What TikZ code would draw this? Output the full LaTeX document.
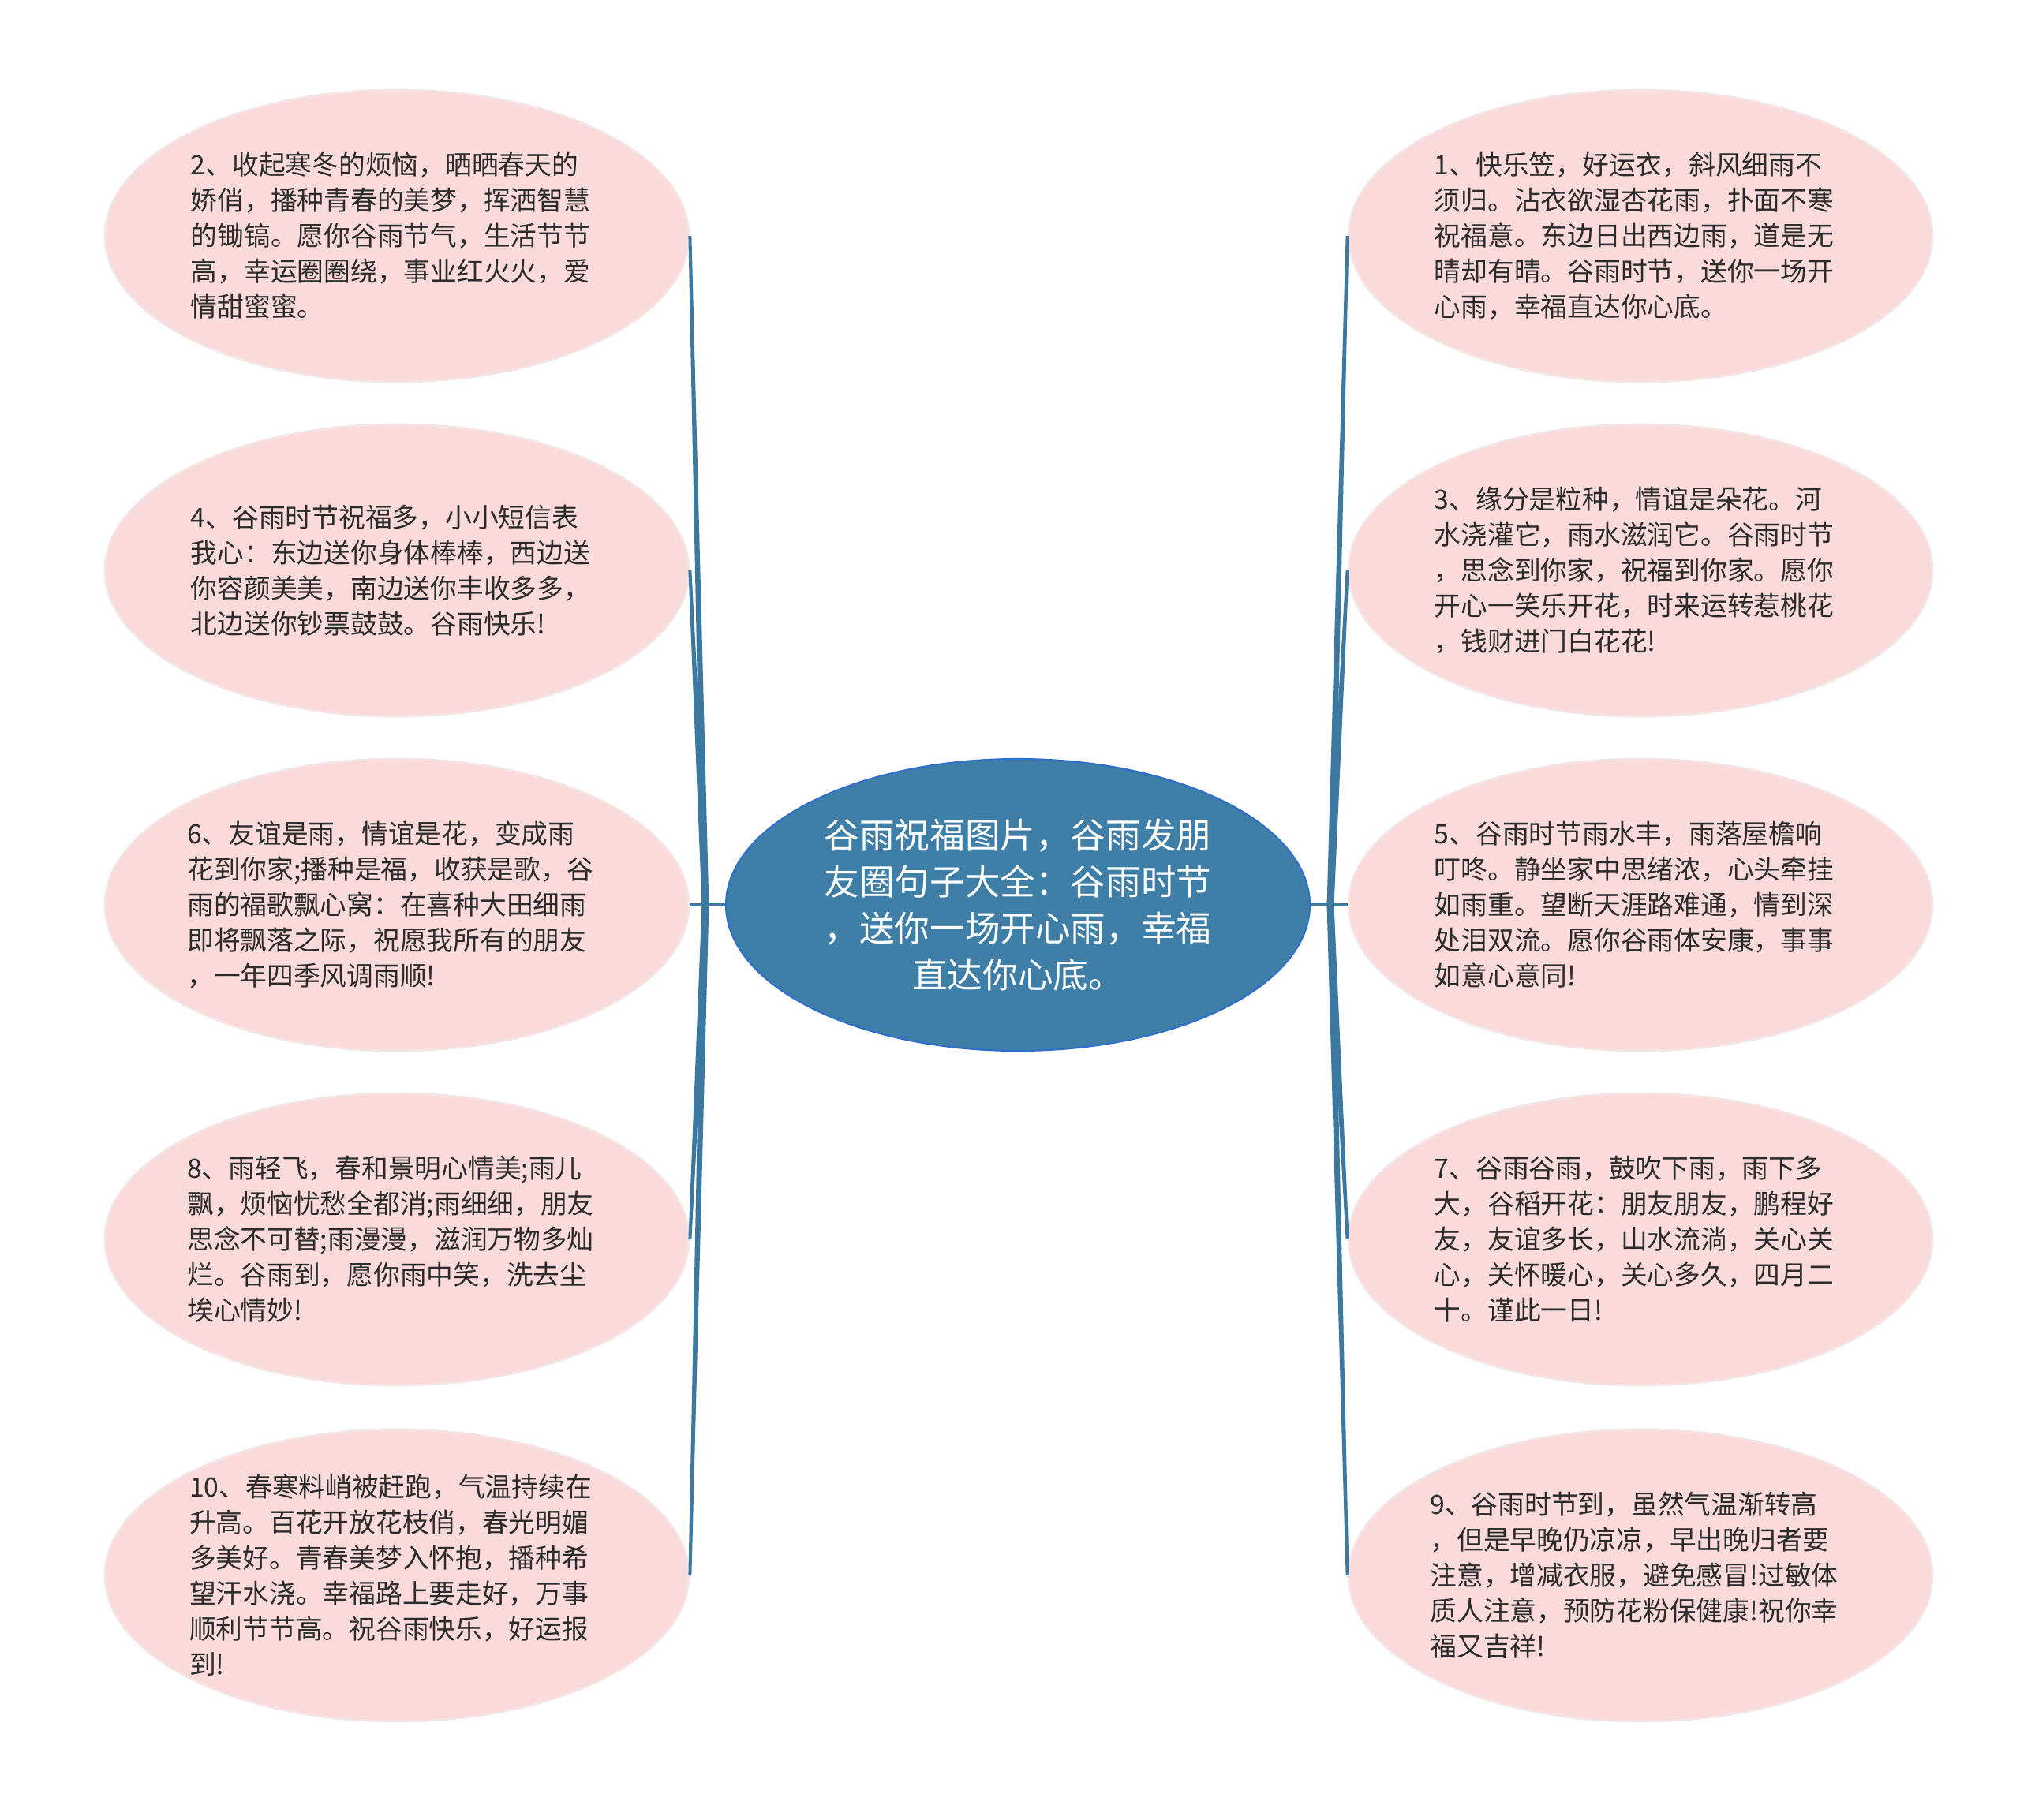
\documentclass[tikz,border=0pt]{standalone}
\usepackage{fontspec}
\setmainfont{Noto Sans CJK SC}
\usetikzlibrary{shapes.geometric,positioning}
\definecolor{leafPink}{HTML}{FADADB}
\definecolor{leafEdge}{HTML}{F4E4E4}
\definecolor{rootBlue}{HTML}{3E7EA7}
\definecolor{rootEdge}{HTML}{2F6FCC}
\definecolor{branchBlue}{HTML}{3C78A0}
\definecolor{inkGray}{HTML}{2B2B2B}

\begin{document}
\begin{tikzpicture}[
  leaf/.style={ellipse,draw=leafEdge,line width=.8pt,fill=leafPink,minimum width=7.4cm,minimum height=3.7cm,inner sep=0pt},
  leaftext/.style={align=left,text=inkGray,font=\fontsize{9.6}{12.8}\selectfont,inner sep=0pt,xshift=-.08cm},
  root/.style={ellipse,draw=rootEdge,line width=.6pt,fill=rootBlue,minimum width=7.4cm,minimum height=3.7cm,inner sep=0pt},
  roottext/.style={align=center,text=white,font=\fontsize{12.7}{16.7}\selectfont,inner sep=0pt},
  stub/.style={draw=branchBlue,line width=1.3pt}
]
  \useasboundingbox (0,0) rectangle (25.6,-23.06);

  \node[root] (root) at (12.90,-11.47) {};
  \node[roottext] at (root) {谷雨祝福图片，谷雨发朋\\友圈句子大全：谷雨时节\\，送你一场开心雨，幸福\\直达你心底。};

  % left side
  \node[leaf] (n2) at (5.03,-2.99) {};
  \node[leaftext] at (n2) {2、收起寒冬的烦恼，晒晒春天的\\娇俏，播种青春的美梦，挥洒智慧\\的锄镐。愿你谷雨节气，生活节节\\高，幸运圈圈绕，事业红火火，爱\\情甜蜜蜜。};
  \node[leaf] (n4) at (5.03,-7.23) {};
  \node[leaftext] at (n4) {4、谷雨时节祝福多，小小短信表\\我心：东边送你身体棒棒，西边送\\你容颜美美，南边送你丰收多多，\\北边送你钞票鼓鼓。谷雨快乐!};
  \node[leaf] (n6) at (5.03,-11.47) {};
  \node[leaftext] at (n6) {6、友谊是雨，情谊是花，变成雨\\花到你家;播种是福，收获是歌，谷\\雨的福歌飘心窝：在喜种大田细雨\\即将飘落之际，祝愿我所有的朋友\\，一年四季风调雨顺!};
  \node[leaf] (n8) at (5.03,-15.71) {};
  \node[leaftext] at (n8) {8、雨轻飞，春和景明心情美;雨儿\\飘，烦恼忧愁全都消;雨细细，朋友\\思念不可替;雨漫漫，滋润万物多灿\\烂。谷雨到，愿你雨中笑，洗去尘\\埃心情妙!};
  \node[leaf] (n10) at (5.03,-19.97) {};
  \node[leaftext] at (n10) {10、春寒料峭被赶跑，气温持续在\\升高。百花开放花枝俏，春光明媚\\多美好。青春美梦入怀抱，播种希\\望汗水浇。幸福路上要走好，万事\\顺利节节高。祝谷雨快乐，好运报\\到!};

  % right side
  \node[leaf] (n1) at (20.79,-2.99) {};
  \node[leaftext] at (n1) {1、快乐笠，好运衣，斜风细雨不\\须归。沾衣欲湿杏花雨，扑面不寒\\祝福意。东边日出西边雨，道是无\\晴却有晴。谷雨时节，送你一场开\\心雨，幸福直达你心底。};
  \node[leaf] (n3) at (20.79,-7.23) {};
  \node[leaftext] at (n3) {3、缘分是粒种，情谊是朵花。河\\水浇灌它，雨水滋润它。谷雨时节\\，思念到你家，祝福到你家。愿你\\开心一笑乐开花，时来运转惹桃花\\，钱财进门白花花!};
  \node[leaf] (n5) at (20.79,-11.47) {};
  \node[leaftext] at (n5) {5、谷雨时节雨水丰，雨落屋檐响\\叮咚。静坐家中思绪浓，心头牵挂\\如雨重。望断天涯路难通，情到深\\处泪双流。愿你谷雨体安康，事事\\如意心意同!};
  \node[leaf] (n7) at (20.79,-15.71) {};
  \node[leaftext] at (n7) {7、谷雨谷雨，鼓吹下雨，雨下多\\大，谷稻开花：朋友朋友，鹏程好\\友，友谊多长，山水流淌，关心关\\心，关怀暖心，关心多久，四月二\\十。谨此一日!};
  \node[leaf] (n9) at (20.79,-19.97) {};
  \node[leaftext] at (n9) {9、谷雨时节到，虽然气温渐转高\\，但是早晚仍凉凉，早出晚归者要\\注意，增减衣服，避免感冒!过敏体\\质人注意，预防花粉保健康!祝你幸\\福又吉祥!};

  \coordinate[xshift=-2.5mm] (jl) at (root.west);
  \coordinate[xshift=2.5mm] (jr) at (root.east);
  \draw[stub] (root.west) -- (n6.east);
  \draw[stub] (root.east) -- (n5.west);
  % tapered branches
  \foreach \id in {2,4,8,10}
    \fill[branchBlue] ([xshift=-.045cm]jl) -- ([xshift=-.02cm]n\id.east) -- ([xshift=.02cm]n\id.east) -- ([xshift=.045cm]jl) -- cycle;
  \foreach \id in {1,3,7,9}
    \fill[branchBlue] ([xshift=-.045cm]jr) -- ([xshift=-.02cm]n\id.west) -- ([xshift=.02cm]n\id.west) -- ([xshift=.045cm]jr) -- cycle;
\end{tikzpicture}
\end{document}
